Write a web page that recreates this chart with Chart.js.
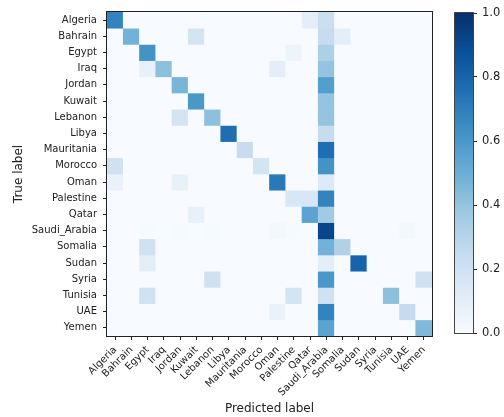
<!DOCTYPE html>
<html>
<head>
<meta charset="utf-8">
<script src="https://cdn.jsdelivr.net/npm/chart.js@4/dist/chart.umd.min.js"></script>
<style>
    body { margin: 0; background: #fff; }
    #wrap { position: relative; width: 504px; height: 417px; }
    #matrix { position: absolute; left: 0; top: 0; }
    #colorbar { position: absolute; left: 440px; top: 0; }
</style>
</head>
<body>
<div id="wrap">
    <canvas id="matrix" width="504" height="417"></canvas>
    <canvas id="colorbar" width="64" height="417"></canvas>
</div>
<script>
const classes = ['Algeria', 'Bahrain', 'Egypt', 'Iraq', 'Jordan', 'Kuwait', 'Lebanon', 'Libya',
    'Mauritania', 'Morocco', 'Oman', 'Palestine', 'Qatar', 'Saudi_Arabia', 'Somalia', 'Sudan',
    'Syria', 'Tunisia', 'UAE', 'Yemen'];

// rows = true label, columns = predicted label (normalized)
const matrix = [
    [0.68, 0, 0, 0, 0, 0, 0, 0, 0, 0, 0, 0, 0.10, 0.22, 0, 0, 0, 0, 0, 0],
    [0, 0.48, 0, 0, 0, 0.18, 0, 0, 0, 0, 0, 0, 0, 0.24, 0.10, 0, 0, 0, 0, 0],
    [0, 0, 0.62, 0, 0, 0, 0, 0, 0, 0, 0, 0.05, 0, 0.33, 0, 0, 0, 0, 0, 0],
    [0, 0, 0.08, 0.42, 0, 0, 0, 0, 0, 0, 0.10, 0, 0, 0.40, 0, 0, 0, 0, 0, 0],
    [0, 0, 0, 0, 0.47, 0, 0, 0, 0, 0, 0, 0, 0, 0.57, 0, 0, 0, 0, 0, 0],
    [0, 0, 0, 0, 0, 0.60, 0, 0, 0, 0, 0, 0, 0, 0.40, 0, 0, 0, 0, 0, 0],
    [0, 0, 0, 0, 0.18, 0, 0.42, 0, 0, 0, 0, 0, 0, 0.40, 0, 0, 0, 0, 0, 0],
    [0, 0, 0, 0, 0, 0, 0, 0.76, 0, 0, 0, 0, 0, 0.24, 0, 0, 0, 0, 0, 0],
    [0, 0, 0, 0, 0, 0, 0, 0, 0.24, 0, 0, 0, 0, 0.76, 0, 0, 0, 0, 0, 0],
    [0.20, 0, 0, 0, 0, 0, 0, 0, 0, 0.18, 0, 0, 0, 0.62, 0, 0, 0, 0, 0, 0],
    [0.07, 0, 0, 0, 0.08, 0, 0, 0, 0, 0, 0.72, 0, 0, 0.13, 0, 0, 0, 0, 0, 0],
    [0, 0, 0, 0, 0, 0, 0, 0, 0, 0, 0, 0.16, 0.16, 0.68, 0, 0, 0, 0, 0, 0],
    [0, 0, 0, 0, 0, 0.08, 0, 0, 0, 0, 0, 0, 0.55, 0.37, 0, 0, 0, 0, 0, 0],
    [0, 0, 0.01, 0, 0.01, 0, 0.01, 0, 0, 0, 0.02, 0.01, 0, 0.92, 0, 0, 0, 0, 0.02, 0],
    [0, 0, 0.20, 0, 0, 0, 0, 0, 0, 0, 0, 0, 0, 0.48, 0.32, 0, 0, 0, 0, 0],
    [0, 0, 0.10, 0, 0, 0, 0, 0, 0, 0, 0, 0, 0, 0.10, 0, 0.80, 0, 0, 0, 0],
    [0, 0, 0, 0, 0, 0, 0.20, 0, 0, 0, 0, 0, 0, 0.60, 0, 0, 0, 0, 0, 0.20],
    [0, 0, 0.20, 0, 0, 0, 0, 0, 0, 0, 0, 0.18, 0, 0.20, 0, 0, 0, 0.42, 0, 0],
    [0, 0, 0, 0, 0, 0, 0, 0, 0, 0, 0.07, 0, 0, 0.68, 0, 0, 0, 0, 0.25, 0],
    [0, 0, 0, 0, 0, 0, 0, 0, 0, 0, 0, 0, 0, 0.55, 0, 0, 0, 0, 0, 0.45]
];

const colorbarTicks = [0, 0.2, 0.4, 0.6, 0.8, 1.0];

// matplotlib "Blues" control points
const blues = [
    [247, 251, 255], [222, 235, 247], [198, 219, 239], [158, 202, 225], [107, 174, 214],
    [66, 146, 198], [33, 113, 181], [8, 81, 156], [8, 48, 107]
];

const _blue = v => {
    const t = Math.max(0, Math.min(1, v)) * (blues.length - 1);
    const i = Math.min(Math.floor(t), blues.length - 2);
    const f = t - i;
    const c = blues[i].map((a, k) => Math.round(a + (blues[i + 1][k] - a) * f));
    return `rgb(${c[0]}, ${c[1]}, ${c[2]})`;
};

const textColor = '#222';
const font = { family: 'DejaVu Sans', size: 10 };
const titleFont = { family: 'DejaVu Sans', size: 12 };
const cbFont = { family: 'DejaVu Sans', size: 11.5 };

const frame = {
    id: 'frame',
    beforeDraw: chart => {
        const { ctx, chartArea: a } = chart;
        ctx.save();
        ctx.fillStyle = _blue(0);
        ctx.fillRect(a.left, a.top, a.right - a.left, a.bottom - a.top);
        ctx.restore();
    },
    afterDraw: chart => {
        const { ctx, chartArea: a } = chart;
        ctx.save();
        ctx.strokeStyle = textColor;
        ctx.lineWidth = 1;
        ctx.strokeRect(Math.round(a.left) - 0.5, Math.round(a.top) - 0.5,
            Math.round(a.right - a.left) + 1, Math.round(a.bottom - a.top) + 1);
        ctx.restore();
    }
};

new Chart(document.getElementById('matrix'), {
    type: 'bar',
    data: {
        labels: classes,
        datasets: matrix.map((row, r) => ({
            label: classes[r],
            data: row.map(() => [r, r + 1]),
            backgroundColor: row.map(v => _blue(v)),
            borderWidth: 0,
            grouped: false,
            barPercentage: 1,
            categoryPercentage: 1
        }))
    },
    options: {
        responsive: false,
        animation: false,
        layout: { padding: { left: 0, top: 12, right: 72, bottom: 0 } },
        plugins: { legend: { display: false }, tooltip: { enabled: false } },
        scales: {
            x: {
                type: 'category',
                offset: true,
                border: { display: false },
                grid: { offset: false, drawOnChartArea: false, tickLength: 4, color: textColor },
                ticks: { autoSkip: false, maxRotation: 45, minRotation: 45, font, color: textColor, padding: 4 },
                title: { display: true, text: 'Predicted label', font: titleFont, color: textColor, padding: { top: 0, bottom: 1 } },
                afterFit: scale => { scale.height = 81; }
            },
            y: {
                type: 'linear',
                min: 0,
                max: classes.length,
                reverse: true,
                border: { display: false },
                afterBuildTicks: scale => { scale.ticks = classes.map((c, i) => ({ value: i + 0.5 })); },
                grid: { drawOnChartArea: false, tickLength: 4, color: textColor },
                ticks: { autoSkip: false, font, color: textColor, padding: 6, callback: (v, i) => classes[i] },
                title: { display: true, text: 'True label', font: titleFont, color: textColor, padding: { top: 12, bottom: 0 } },
                afterFit: scale => { scale.width = 107; }
            }
        }
    },
    plugins: [frame]
});

const _gradient = context => {
    const chart = context.chart;
    const a = chart.chartArea;
    if (!a) {
        return _blue(0.5);
    }
    const g = chart.ctx.createLinearGradient(0, a.bottom, 0, a.top);
    blues.forEach((c, i) => g.addColorStop(i / (blues.length - 1), `rgb(${c[0]}, ${c[1]}, ${c[2]})`));
    return g;
};

new Chart(document.getElementById('colorbar'), {
    type: 'bar',
    data: {
        labels: [''],
        datasets: [{
            data: [[colorbarTicks[0], colorbarTicks[colorbarTicks.length - 1]]],
            backgroundColor: _gradient,
            borderWidth: 0,
            barPercentage: 1,
            categoryPercentage: 1
        }]
    },
    options: {
        responsive: false,
        animation: false,
        layout: { padding: { left: 15, top: 13, right: 0, bottom: 84 } },
        plugins: { legend: { display: false }, tooltip: { enabled: false } },
        scales: {
            x: { display: false },
            y: {
                position: 'right',
                min: 0,
                max: 1,
                border: { display: false },
                afterBuildTicks: scale => { scale.ticks = colorbarTicks.map(v => ({ value: v })); },
                grid: { drawOnChartArea: false, tickLength: 4, color: textColor },
                ticks: { font: cbFont, color: textColor, padding: 5, callback: v => Number(v).toFixed(1) },
                afterFit: scale => { scale.width = 31; }
            }
        }
    },
    plugins: [{
        id: 'cbframe',
        afterDraw: chart => {
            const { ctx, chartArea: a } = chart;
            ctx.save();
            ctx.strokeStyle = '#444';
            ctx.lineWidth = 1;
            ctx.strokeRect(Math.round(a.left) - 0.5, Math.round(a.top) - 0.5,
                Math.round(a.right - a.left) + 1, Math.round(a.bottom - a.top) + 1);
            ctx.restore();
        }
    }]
});
</script>
</body>
</html>
